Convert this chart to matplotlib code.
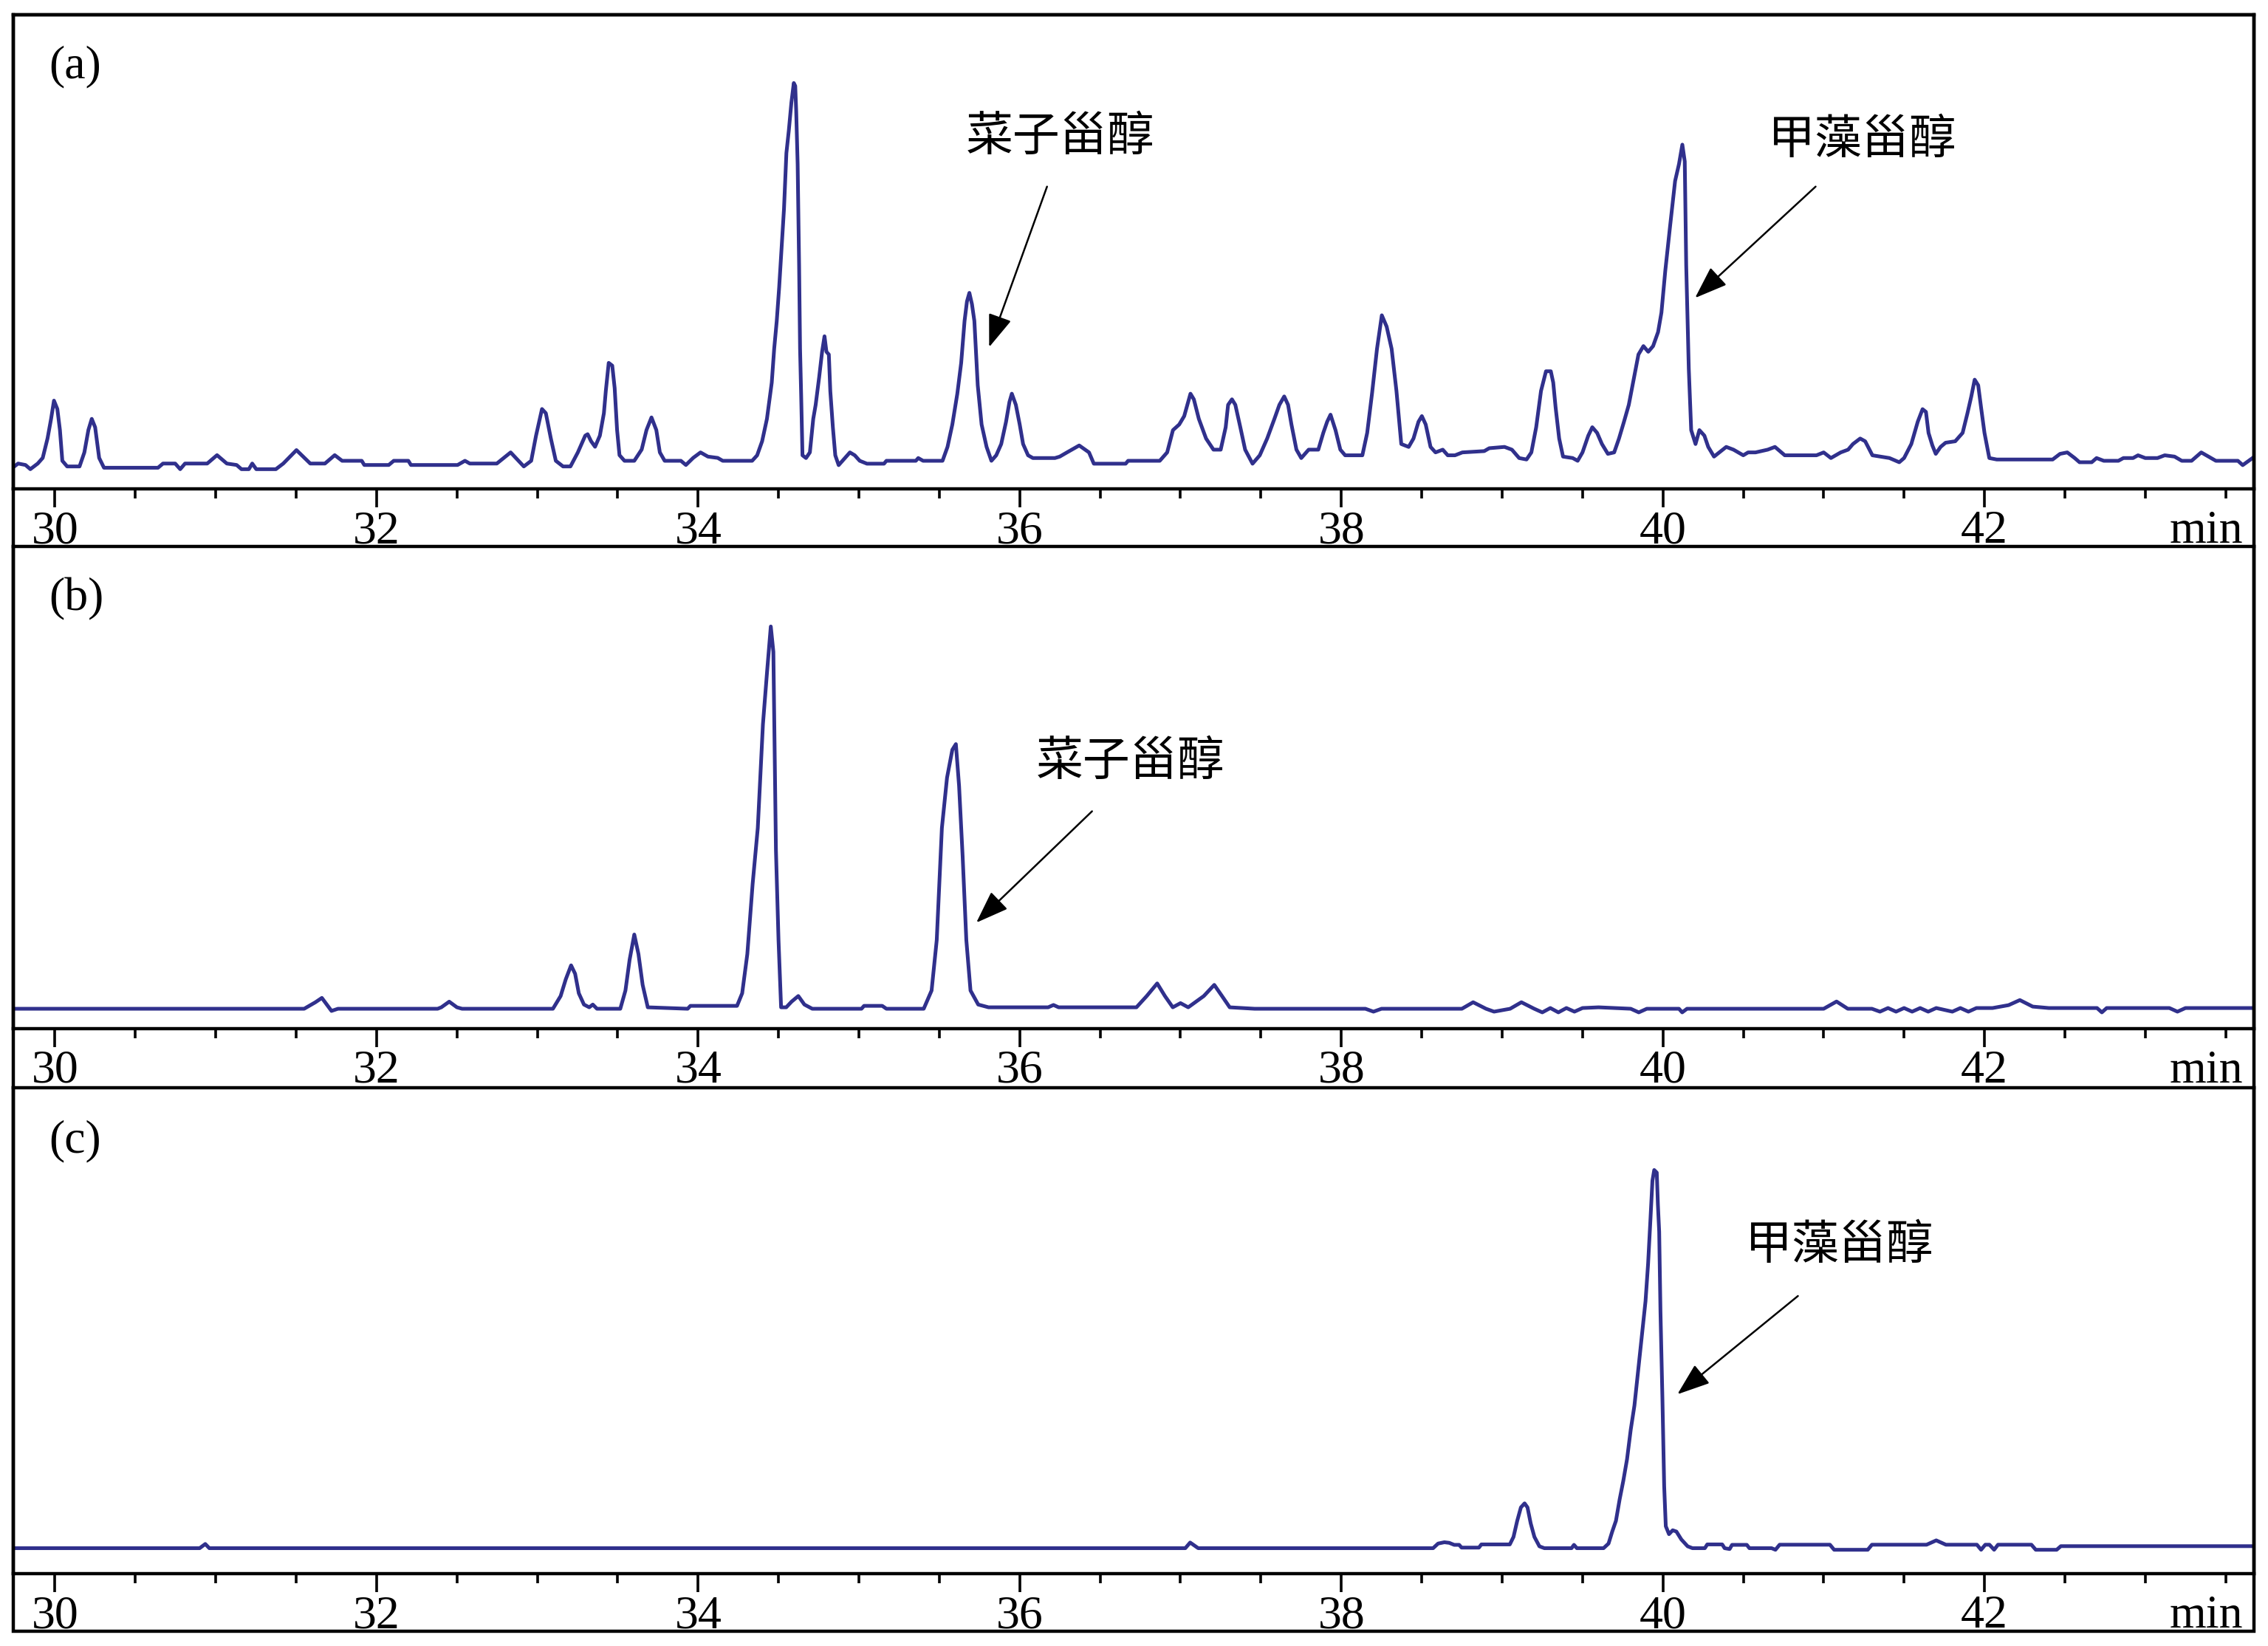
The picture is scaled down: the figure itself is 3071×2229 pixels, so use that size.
import matplotlib.pyplot as plt
from matplotlib.ticker import MultipleLocator
from matplotlib.patches import Rectangle

plt.rcParams['font.family'] = ['Liberation Serif', 'Noto Sans CJK SC']

# retention time (min) and detector signal (arbitrary units)
time_a = [29.725, 29.771, 29.817, 29.847, 29.893, 29.924, 29.954, 29.976, 29.994, 30.015,
          30.031, 30.046, 30.076, 30.153, 30.183, 30.208, 30.229, 30.250, 30.275, 30.305,
          30.641, 30.672, 30.748, 30.779, 30.809, 30.947, 31.008, 31.069, 31.130, 31.160,
          31.206, 31.227, 31.252, 31.374, 31.420, 31.502, 31.588, 31.679, 31.740, 31.786,
          31.908, 31.924, 32.076, 32.107, 32.198, 32.214, 32.504, 32.550, 32.580, 32.748,
          32.834, 32.916, 32.962, 32.992, 33.029, 33.053, 33.084, 33.115, 33.160, 33.206,
          33.252, 33.298, 33.313, 33.334, 33.359, 33.389, 33.414, 33.426, 33.444, 33.466,
          33.481, 33.496, 33.511, 33.542, 33.603, 33.649, 33.679, 33.710, 33.740, 33.762,
          33.792, 33.893, 33.924, 33.969, 34.015, 34.061, 34.122, 34.153, 34.336, 34.367,
          34.398, 34.428, 34.458, 34.473, 34.489, 34.504, 34.519, 34.534, 34.549, 34.564,
          34.580, 34.595, 34.604, 34.610, 34.619, 34.628, 34.634, 34.641, 34.649, 34.671,
          34.695, 34.716, 34.731, 34.753, 34.771, 34.786, 34.798, 34.813, 34.822, 34.838,
          34.853, 34.874, 34.898, 34.944, 34.974, 35.005, 35.050, 35.156, 35.171, 35.354,
          35.369, 35.399, 35.520, 35.551, 35.581, 35.612, 35.636, 35.657, 35.672, 35.687,
          35.703, 35.718, 35.727, 35.739, 35.763, 35.794, 35.824, 35.854, 35.885, 35.915,
          35.936, 35.951, 35.976, 36.000, 36.021, 36.052, 36.082, 36.219, 36.249, 36.294,
          36.370, 36.431, 36.461, 36.659, 36.674, 36.871, 36.917, 36.953, 36.992, 37.023,
          37.062, 37.083, 37.114, 37.159, 37.205, 37.250, 37.281, 37.296, 37.320, 37.341,
          37.372, 37.402, 37.448, 37.493, 37.539, 37.584, 37.615, 37.645, 37.669, 37.690,
          37.721, 37.751, 37.797, 37.857, 37.888, 37.912, 37.933, 37.964, 37.994, 38.024,
          38.131, 38.161, 38.191, 38.222, 38.252, 38.282, 38.313, 38.343, 38.373, 38.419,
          38.449, 38.480, 38.501, 38.525, 38.555, 38.586, 38.631, 38.662, 38.707, 38.753,
          38.889, 38.920, 39.015, 39.061, 39.106, 39.152, 39.182, 39.212, 39.242, 39.273,
          39.303, 39.318, 39.333, 39.355, 39.379, 39.439, 39.470, 39.500, 39.536, 39.561,
          39.591, 39.621, 39.658, 39.697, 39.727, 39.758, 39.788, 39.818, 39.848, 39.879,
          39.909, 39.939, 39.970, 39.991, 40.015, 40.045, 40.076, 40.100, 40.121, 40.136,
          40.145, 40.161, 40.176, 40.203, 40.227, 40.258, 40.282, 40.318, 40.394, 40.439,
          40.500, 40.530, 40.576, 40.652, 40.697, 40.758, 40.955, 41.000, 41.045, 41.106,
          41.152, 41.182, 41.227, 41.258, 41.303, 41.409, 41.470, 41.500, 41.545, 41.585,
          41.615, 41.636, 41.652, 41.676, 41.697, 41.727, 41.758, 41.818, 41.864, 41.894,
          41.918, 41.939, 41.961, 41.979, 42.000, 42.030, 42.076, 42.424, 42.470, 42.515,
          42.561, 42.591, 42.667, 42.697, 42.742, 42.833, 42.864, 42.924, 42.955, 43.000,
          43.076, 43.121, 43.182, 43.227, 43.288, 43.348, 43.394, 43.439, 43.576, 43.606,
          43.667]
signal_a = [13.6, 17.5, 16.5, 13.6, 17.5, 21.4, 34.9, 48.4, 61.0, 55.2,
            40.7, 19.4, 15.5, 15.5, 25.2, 40.7, 48.4, 42.6, 21.4, 14.6,
            14.6, 17.5, 17.5, 13.6, 17.5, 17.5, 23.3, 17.5, 16.5, 13.6,
            13.6, 17.5, 13.6, 13.6, 17.5, 26.8, 17.5, 17.5, 23.3, 19.4,
            19.4, 16.5, 16.5, 19.4, 19.4, 16.5, 16.5, 19.4, 17.5, 17.5,
            25.2, 15.5, 19.4, 36.8, 55.2, 52.3, 34.9, 19.4, 15.5, 15.5,
            25.2, 36.8, 37.8, 33.0, 29.1, 36.8, 52.3, 67.8, 87.1, 85.2,
            69.7, 40.7, 23.3, 19.4, 19.4, 27.2, 40.7, 49.4, 40.7, 25.2,
            19.4, 19.4, 16.5, 21.4, 25.2, 22.3, 21.4, 19.4, 19.4, 23.2,
            32.9, 48.4, 73.5, 96.8, 116.1, 139.3, 166.4, 193.5, 232.2, 247.7,
            267.0, 280.6, 278.6, 261.2, 224.5, 154.8, 96.8, 63.9, 23.2, 21.3,
            25.2, 48.4, 58.1, 77.4, 94.8, 105.5, 94.8, 92.9, 67.7, 42.6,
            23.2, 16.4, 19.4, 25.2, 23.2, 19.4, 17.4, 17.4, 19.4, 19.4,
            21.3, 19.4, 19.4, 29.0, 44.5, 65.8, 87.1, 116.1, 129.6, 135.5,
            127.7, 116.1, 96.8, 71.6, 44.5, 29.0, 19.4, 23.2, 31.0, 46.4,
            60.0, 65.8, 58.1, 44.5, 31.0, 23.2, 21.3, 21.3, 22.3, 25.2,
            30.0, 25.2, 17.4, 17.4, 19.4, 19.4, 25.2, 40.6, 44.5, 50.3,
            65.8, 61.9, 48.4, 34.8, 27.1, 27.1, 42.6, 58.1, 61.9, 58.1,
            42.6, 27.1, 17.4, 23.2, 34.8, 48.4, 58.1, 63.9, 58.1, 44.5,
            27.1, 21.3, 27.1, 27.1, 38.7, 46.4, 51.3, 40.6, 27.1, 23.2,
            23.2, 38.7, 65.8, 96.8, 120.0, 112.2, 96.8, 67.7, 31.0, 29.0,
            34.8, 46.4, 50.3, 44.5, 29.0, 25.2, 27.1, 23.2, 23.2, 25.2,
            26.1, 28.1, 29.0, 27.1, 21.3, 20.3, 25.2, 42.6, 67.7, 81.3,
            81.3, 73.5, 56.1, 34.8, 22.3, 21.3, 19.4, 25.2, 36.8, 42.6,
            38.7, 31.0, 24.2, 25.2, 34.8, 46.4, 58.1, 75.5, 92.9, 98.7,
            94.8, 98.7, 108.4, 121.9, 150.9, 181.9, 212.9, 224.5, 238.0, 226.4,
            154.8, 83.2, 40.6, 31.0, 40.6, 36.8, 29.0, 22.3, 29.0, 27.1,
            23.2, 25.2, 25.2, 27.1, 29.0, 23.2, 23.2, 25.2, 21.3, 25.2,
            27.1, 31.0, 34.8, 32.9, 23.2, 21.3, 18.4, 21.3, 31.0, 46.4,
            55.1, 53.2, 38.7, 30.0, 24.2, 29.0, 31.9, 32.9, 38.7, 52.2,
            63.9, 75.5, 71.6, 56.1, 38.7, 21.3, 20.3, 20.3, 24.2, 25.2,
            21.3, 18.4, 18.4, 21.3, 19.4, 19.4, 21.3, 21.3, 23.2, 21.3,
            21.3, 23.2, 22.3, 19.4, 19.4, 25.2, 22.3, 19.4, 19.4, 16.4,
            21.3]

time_b = [29.741, 31.55, 31.62, 31.66, 31.70, 31.72, 31.76, 32.38, 32.403, 32.452,
          32.500, 32.532, 33.097, 33.145, 33.177, 33.210, 33.235, 33.258, 33.290, 33.323,
          33.345, 33.371, 33.516, 33.548, 33.574, 33.603, 33.629, 33.655, 33.687, 33.935,
          33.952, 34.242, 34.274, 34.306, 34.339, 34.371, 34.403, 34.429, 34.452, 34.468,
          34.484, 34.500, 34.516, 34.548, 34.581, 34.623, 34.661, 34.710, 35.016, 35.032,
          35.145, 35.171, 35.403, 35.452, 35.484, 35.516, 35.548, 35.581, 35.603, 35.623,
          35.645, 35.668, 35.694, 35.742, 35.806, 36.177, 36.210, 36.242, 36.726, 36.790,
          36.855, 36.903, 36.952, 37.000, 37.048, 37.145, 37.210, 37.258, 37.306, 37.461,
          38.15, 38.20, 38.25, 38.75, 38.82, 38.90, 38.95, 39.05, 39.12, 39.20,
          39.25, 39.30, 39.35, 39.40, 39.45, 39.50, 39.60, 39.70, 39.80, 39.85,
          39.90, 40.10, 40.12, 40.15, 41.00, 41.08, 41.15, 41.30, 41.35, 41.40,
          41.45, 41.50, 41.55, 41.60, 41.65, 41.70, 41.80, 41.85, 41.90, 41.95,
          42.05, 42.15, 42.22, 42.30, 42.40, 42.70, 42.73, 42.76, 43.15, 43.20,
          43.25, 43.676]
signal_b = [13.5, 13.5, 18.0, 21.0, 15.0, 12.0, 13.5, 13.5, 14.5, 18.4,
            14.5, 13.5, 13.5, 22.3, 33.9, 43.5, 37.7, 24.2, 16.4, 14.5,
            16.4, 13.5, 13.5, 26.1, 47.4, 64.8, 51.3, 30.0, 14.5, 13.5,
            15.5, 15.5, 24.2, 51.3, 99.7, 138.4, 210.0, 246.7, 277.7, 260.2,
            122.9, 61.0, 14.5, 14.5, 18.4, 22.3, 16.4, 13.5, 13.5, 15.5,
            15.5, 13.5, 13.5, 26.1, 61.0, 138.4, 173.2, 192.5, 196.4, 167.4,
            119.0, 61.0, 26.1, 16.4, 14.5, 14.5, 16.1, 14.5, 14.5, 22.3,
            31.0, 22.3, 14.5, 17.4, 14.5, 22.3, 30.0, 22.3, 14.5, 13.5,
            13.5, 11.5, 13.5, 13.5, 18.0, 13.5, 11.5, 13.5, 18.0, 13.5,
            11.0, 14.0, 11.0, 14.0, 11.5, 14.0, 14.5, 14.0, 13.5, 11.0,
            13.5, 13.5, 11.0, 13.5, 13.5, 18.5, 13.5, 13.5, 11.5, 14.0,
            11.5, 14.0, 11.5, 14.0, 11.5, 14.0, 11.5, 14.0, 11.5, 14.0,
            14.0, 16.0, 19.5, 15.0, 14.0, 14.0, 11.0, 14.0, 14.0, 11.5,
            14.0, 14.0]

time_c = [29.741, 30.90, 30.935, 30.96, 37.03, 37.06, 37.11, 38.571, 38.602, 38.641,
          38.671, 38.702, 38.733, 38.748, 38.856, 38.871, 39.048, 39.071, 39.094, 39.117,
          39.140, 39.158, 39.178, 39.201, 39.232, 39.263, 39.432, 39.447, 39.465, 39.631,
          39.662, 39.685, 39.708, 39.731, 39.754, 39.777, 39.800, 39.823, 39.846, 39.869,
          39.892, 39.908, 39.923, 39.935, 39.946, 39.962, 39.969, 39.977, 39.985, 39.997,
          40.008, 40.018, 40.038, 40.061, 40.084, 40.115, 40.154, 40.184, 40.261, 40.276,
          40.369, 40.384, 40.415, 40.430, 40.522, 40.538, 40.676, 40.700, 40.726, 41.039,
          41.065, 41.274, 41.300, 41.640, 41.700, 41.760, 41.953, 41.979, 42.005, 42.031,
          42.060, 42.084, 42.292, 42.319, 42.449, 42.475, 43.676]
signal_c = [17.6, 17.6, 20.5, 17.6, 17.6, 21.5, 17.6, 17.6, 20.8, 21.7,
            21.3, 19.9, 19.9, 18.0, 18.0, 20.2, 20.2, 25.4, 36.5, 45.8,
            48.6, 45.8, 34.7, 25.4, 18.9, 17.6, 17.6, 19.9, 17.6, 17.6,
            20.8, 29.1, 36.5, 51.3, 64.3, 79.1, 99.5, 116.2, 140.2, 164.3,
            188.4, 214.3, 245.8, 271.7, 279.1, 277.3, 255.1, 236.5, 181.0, 121.7,
            60.6, 32.8, 27.3, 30.0, 29.1, 23.6, 18.9, 17.6, 17.6, 20.2,
            20.2, 17.6, 17.0, 19.9, 19.9, 17.6, 17.6, 16.5, 20.0, 20.0,
            16.5, 16.5, 20.0, 20.0, 23.0, 20.0, 20.0, 16.5, 20.0, 20.0,
            16.5, 20.0, 20.0, 16.5, 16.5, 19.0, 19.0]

panel_tags = ['(a)', '(b)', '(c)']
brassicasterol = '菜子甾醇'
dinosterol = '甲藻甾醇'

W, H = 3071, 2229
fig = plt.figure(figsize=(W / 100, H / 100), dpi=100)

left, right = 18, 3052
# (top, axis line) of each panel in pixels
panel_px = [(19.6, 662), (740, 1392.5), (1473, 2131)]
strip_bottom = 2209
ytops = [328, 333, 336]

line_color = '#30308c'
frame_lw = 3.2

axes = []
for (top, bot), ytop in zip(panel_px, ytops):
    ax = fig.add_axes([left / W, 1 - bot / H, (right - left) / W, (bot - top) / H])
    ax.set_xlim(29.741, 43.676)
    ax.set_ylim(0, ytop)
    ax.set_yticks([])
    ax.xaxis.set_major_locator(MultipleLocator(2))
    ax.xaxis.set_minor_locator(MultipleLocator(0.5))
    ax.tick_params(axis='x', which='major', direction='out', length=18, width=2.6,
                   labelsize=46, pad=3)
    ax.tick_params(axis='x', which='minor', direction='out', length=9, width=2.6)
    for sp in ax.spines.values():
        sp.set_linewidth(frame_lw)
    ax.annotate('min', xy=(0.995, 0), xycoords='axes fraction',
                xytext=(0, -21), textcoords='offset points',
                ha='right', va='top', fontsize=46)
    axes.append(ax)

for ax, t, s in zip(axes, [time_a, time_b, time_c], [signal_a, signal_b, signal_c]):
    ax.plot(t, s, color=line_color, lw=3.6)

for ax, tag in zip(axes, panel_tags):
    ax.text(0.016, 0.89, tag, transform=ax.transAxes, fontsize=46, va='center', ha='left')

# outer frame around the strips
fig.add_artist(Rectangle((left / W, 1 - strip_bottom / H), (right - left) / W,
                         (strip_bottom - 19.6) / H, transform=fig.transFigure,
                         fill=False, lw=frame_lw, ec='black'))

arrow = dict(arrowstyle='-|>,head_length=0.55,head_width=0.2', color='black',
             lw=1.8, mutation_scale=50, shrinkA=0, shrinkB=0)
cjk = ['Noto Sans CJK SC', 'DejaVu Sans']

labels = [(axes[0], brassicasterol, (36.25, 243), (36.17, 209), (35.81, 98)),
          (axes[0], dinosterol, (41.24, 241), (40.95, 209), (40.20, 132)),
          (axes[1], brassicasterol, (36.69, 184), (36.45, 150), (35.73, 73)),
          (axes[2], dinosterol, (41.10, 227), (40.84, 192), (40.09, 124))]
for ax, name, txy, tail, tip in labels:
    ax.text(txy[0], txy[1], name, family=cjk, fontsize=46, ha='center', va='center')
    ax.annotate('', xy=tip, xytext=tail, arrowprops=arrow)

fig.savefig('out.png', dpi=100)
